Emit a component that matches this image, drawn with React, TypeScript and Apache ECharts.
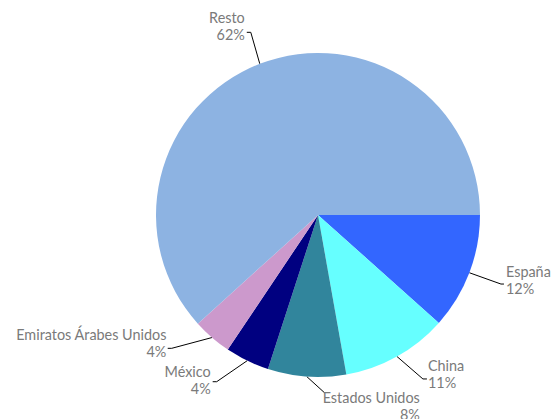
import React, { useEffect, useRef } from "react";
import * as echarts from "echarts";

const categories = ["España", "China", "Estados Unidos", "México", "Emiratos Árabes Unidos", "Resto"];
const values = [11.6, 10.6, 7.8, 4.4, 3.9, 61.7];
const colors = ["#3366FF", "#66FFFF", "#31859C", "#000080", "#CC99CC", "#8DB3E2"];

// guide-line layout, relative to the slice edge point computed by ECharts
const guideElbow = [[31.6, 11.3], [26, 22.5], [18, 16.4], [-30.5, 21], [-40.3, 10.8], [-9, -31.5]];
const guideTail = [3, 4, 0, -4, -4, -4];
const textGapX = [2, 1, 95, -2, -1.3, -2];
const textGapY = [-4, -5, 13, -2, -5, -6];
const textAlign = ["left", "left", "right", "right", "right", "right"];

export default function App() {
  const ref = useRef<HTMLDivElement>(null);
  useEffect(() => {
    if (!ref.current) return;
    const chart = echarts.init(ref.current, undefined, { renderer: "svg" });
    chart.setOption({
      animation: false,
      series: [
        {
          type: "pie",
          center: [318, 215],
          radius: 162,
          startAngle: 0,
          clockwise: true,
          avoidLabelOverlap: false,
          emphasis: { disabled: true },
          itemStyle: { borderWidth: 0 },
          label: {
            show: true,
            color: "#7A7A7A",
            fontFamily: "Lato",
            fontSize: 14.4,
            lineHeight: 17,
            overflow: "none",
            formatter: (p: any) => `${p.name}\n${Math.round(p.percent)}%`,
          },
          labelLine: { show: true, length: 30, length2: 4, lineStyle: { color: "#000", width: 1 } },
          labelLayout: (p: any) => {
            const i = p.dataIndex;
            const s = p.labelLinePoints ? p.labelLinePoints[0] : [0, 0];
            const e = [s[0] + guideElbow[i][0], s[1] + guideElbow[i][1]];
            const t = [e[0] + guideTail[i], e[1]];
            return {
              x: t[0] + textGapX[i],
              y: t[1] + textGapY[i],
              align: textAlign[i],
              verticalAlign: "middle",
              labelLinePoints: [s, e, t],
            };
          },
          data: categories.map((c, i) => ({ name: c, value: values[i], itemStyle: { color: colors[i] } })),
        },
      ],
    });
    return () => chart.dispose();
  }, []);
  return <div ref={ref} style={{ position: "absolute", left: 0, top: 0, width: 552, height: 419 }} />;
}
